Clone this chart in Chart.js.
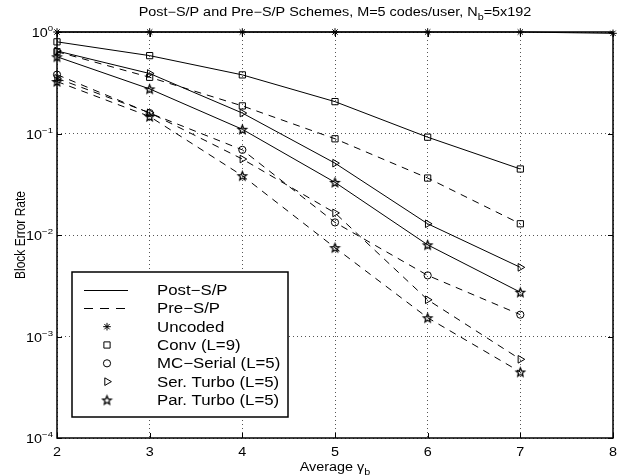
<!DOCTYPE html>
<html>
<head>
<meta charset="utf-8">
<script src="https://cdn.jsdelivr.net/npm/chart.js@4.4.0/dist/chart.umd.min.js"></script>
<style>
  html, body { margin: 0; padding: 0; background: #fff; }
  #bler-chart { display: block; }
</style>
</head>
<body>
<canvas id="bler-chart" width="623" height="476"></canvas>
<script>
// average gamma_b values where the coded schemes were simulated
const snrPoints = [2, 3, 4, 5, 6, 7];
const uncodedSnr = [2, 3, 4, 5, 6, 7, 8];

// block error rates
const uncoded = [1, 1, 1, 1, 1, 1, 0.97];
const postConv = [0.80, 0.585, 0.378, 0.206, 0.092, 0.0447];
const postSerTurbo = [0.65, 0.39, 0.159, 0.051, 0.0129, 0.0048];
const postParTurbo = [0.57, 0.275, 0.110, 0.033, 0.0080, 0.00273];
const preConv = [0.64, 0.358, 0.187, 0.0887, 0.0364, 0.0129];
const preMcSerial = [0.38, 0.159, 0.069, 0.0133, 0.0040, 0.00164];
const preSerTurbo = [0.35, 0.160, 0.056, 0.0165, 0.0023, 0.000596];
const preParTurbo = [0.325, 0.147, 0.0384, 0.0075, 0.00153, 0.000447];

// axis ticks
const xTicks = [2, 3, 4, 5, 6, 7, 8];
const yDecades = [1e-4, 1e-3, 1e-2, 1e-1, 1];
const yExponents = ['\u22124', '\u22123', '\u22122', '\u22121', '0'];

const legendLabels = ['Post\u2212S/P', 'Pre\u2212S/P', 'Uncoded', 'Conv (L=9)',
  'MC\u2212Serial (L=5)', 'Ser. Turbo (L=5)', 'Par. Turbo (L=5)'];

const FONT = '"Liberation Sans", Arial, sans-serif';
const textStretch = 1.2;
const dashPattern = [7, 6];

// five-pointed star marker used for the parallel turbo curves
function makePentagram(r) {
  const size = Math.ceil(r * 2 + 4);
  const c = document.createElement('canvas');
  c.width = size;
  c.height = size;
  const g = c.getContext('2d');
  g.translate(size / 2, size / 2 + 0.5);
  g.beginPath();
  for (let i = 0; i < 10; i++) {
    const rad = i % 2 ? r * 0.45 : r;
    const a = -Math.PI / 2 + i * Math.PI / 5;
    g.lineTo(rad * Math.cos(a), rad * Math.sin(a));
  }
  g.closePath();
  g.lineWidth = 1.3;
  g.strokeStyle = '#000';
  g.stroke();
  return c;
}
const pentagram = makePentagram(4.5);

const markers = {
  uncoded: {pointStyle: 'star', radius: 3.8, rotation: 0},
  conv: {pointStyle: 'rect', radius: 4.4, rotation: 0},
  mc: {pointStyle: 'circle', radius: 3.6, rotation: 0},
  ser: {pointStyle: 'triangle', radius: 4.4, rotation: 90},
  par: {pointStyle: pentagram, radius: 5, rotation: 0}
};

function series(label, xs, ys, marker, dashed) {
  return {
    label: label,
    data: xs.map((x, i) => ({x: x, y: ys[i]})),
    borderColor: '#000',
    borderWidth: 1,
    borderDash: dashed ? dashPattern : [],
    pointStyle: marker.pointStyle,
    pointRadius: marker.radius,
    pointRotation: marker.rotation,
    pointBorderColor: '#000',
    pointBackgroundColor: 'rgba(0,0,0,0)',
    pointBorderWidth: 1,
    tension: 0,
    clip: false
  };
}

// draws text pieces one after another (for sub/superscripts), stretched a bit wide
function drawRuns(ctx, runs, x, y, align, sx, sy) {
  sx = sx || textStretch;
  sy = sy || 1;
  let total = 0;
  runs.forEach(r => {
    ctx.font = r[1] + 'px ' + FONT;
    total += ctx.measureText(r[0]).width * sx;
  });
  let cx = x;
  if (align === 'center') cx = x - total / 2;
  if (align === 'right') cx = x - total;
  ctx.textAlign = 'left';
  ctx.textBaseline = 'alphabetic';
  runs.forEach(r => {
    ctx.font = r[1] + 'px ' + FONT;
    ctx.save();
    ctx.translate(cx, y + (r[2] || 0) * sy);
    ctx.scale(sx, sy);
    ctx.fillText(r[0], 0, 0);
    ctx.restore();
    cx += ctx.measureText(r[0]).width * sx;
  });
}

const frame = {
  id: 'frame',
  beforeDatasetsDraw(chart) {
    const {ctx, chartArea: a, scales} = chart;
    ctx.save();
    ctx.strokeStyle = '#000';
    ctx.lineWidth = 1.5;
    ctx.strokeRect(a.left, a.top, a.right - a.left, a.bottom - a.top);
    ctx.lineWidth = 1;
    ctx.beginPath();
    xTicks.forEach(v => {
      const px = Math.round(scales.x.getPixelForValue(v)) + 0.5;
      ctx.moveTo(px, a.bottom); ctx.lineTo(px, a.bottom - 5);
      ctx.moveTo(px, a.top); ctx.lineTo(px, a.top + 5);
    });
    yDecades.forEach(v => {
      const py = Math.round(scales.y.getPixelForValue(v)) + 0.5;
      ctx.moveTo(a.left, py); ctx.lineTo(a.left + 5, py);
      ctx.moveTo(a.right, py); ctx.lineTo(a.right - 5, py);
    });
    ctx.stroke();
    ctx.restore();
  },
  afterDraw(chart) {
    const {ctx, chartArea: a, scales} = chart;
    ctx.save();
    ctx.fillStyle = '#000';

    // tick labels
    xTicks.forEach(v => {
      drawRuns(ctx, [[String(v), 12]], scales.x.getPixelForValue(v), a.bottom + 18, 'center');
    });
    yDecades.forEach((v, i) => {
      const py = scales.y.getPixelForValue(v);
      drawRuns(ctx, [['10', 12], [yExponents[i], 8, -6]], a.left - 4, py + 5, 'right');
    });

    // title and axis labels
    const mid = (a.left + a.right) / 2;
    drawRuns(ctx, [['Post\u2212S/P and Pre\u2212S/P Schemes, M=5 codes/user, N', 12],
      ['b', 9, 4], ['=5x192', 12]], mid, 16, 'center');
    drawRuns(ctx, [['Average \u03b3', 12], ['b', 9, 4]], mid, 471, 'center');
    ctx.save();
    ctx.translate(25, (a.top + a.bottom) / 2);
    ctx.rotate(-Math.PI / 2);
    drawRuns(ctx, [['Block Error Rate', 12]], 0, 0, 'center', 1, textStretch);
    ctx.restore();

    // legend box
    const box = {left: 72, top: 272, right: 288, bottom: 417};
    ctx.fillStyle = '#fff';
    ctx.fillRect(box.left, box.top, box.right - box.left, box.bottom - box.top);
    ctx.strokeStyle = '#000';
    ctx.lineWidth = 1.5;
    ctx.strokeRect(box.left, box.top, box.right - box.left, box.bottom - box.top);

    const rowMarkers = [null, null, markers.uncoded, markers.conv, markers.mc, markers.ser, markers.par];
    legendLabels.forEach((label, i) => {
      const cy = 290 + i * 18.33;
      ctx.strokeStyle = '#000';
      ctx.lineWidth = 1;
      if (i < 2) {
        ctx.save();
        ctx.setLineDash(i === 1 ? [9, 7] : []);
        ctx.beginPath();
        ctx.moveTo(84, Math.round(cy) + 0.5);
        ctx.lineTo(128, Math.round(cy) + 0.5);
        ctx.stroke();
        ctx.restore();
      } else {
        const m = rowMarkers[i];
        ctx.fillStyle = 'rgba(0,0,0,0)';
        Chart.helpers.drawPoint(ctx, {pointStyle: m.pointStyle, rotation: m.rotation,
          radius: m.radius, borderWidth: 1}, 107, cy);
      }
      ctx.fillStyle = '#000';
      drawRuns(ctx, [[label, 14]], 157, cy + 5);
    });
    ctx.restore();
  }
};

const gridOpts = {color: '#555', lineWidth: 1, drawTicks: false};

new Chart(document.getElementById('bler-chart'), {
  type: 'line',
  data: {
    datasets: [
      series('Uncoded', uncodedSnr, uncoded, markers.uncoded, false),
      series('Post Conv', snrPoints, postConv, markers.conv, false),
      series('Post Ser. Turbo', snrPoints, postSerTurbo, markers.ser, false),
      series('Post Par. Turbo', snrPoints, postParTurbo, markers.par, false),
      series('Pre Conv', snrPoints, preConv, markers.conv, true),
      series('Pre MC-Serial', snrPoints, preMcSerial, markers.mc, true),
      series('Pre Ser. Turbo', snrPoints, preSerTurbo, markers.ser, true),
      series('Pre Par. Turbo', snrPoints, preParTurbo, markers.par, true)
    ]
  },
  options: {
    responsive: false,
    animation: false,
    layout: {padding: {left: 57, right: 10, top: 32, bottom: 38}},
    plugins: {
      legend: {display: false},
      tooltip: {enabled: false},
      title: {display: false}
    },
    scales: {
      x: {
        type: 'linear', min: 2, max: 8,
        afterBuildTicks: s => { s.ticks = xTicks.map(v => ({value: v})); },
        ticks: {display: false},
        grid: gridOpts,
        border: {display: false, dash: [1, 3]}
      },
      y: {
        type: 'logarithmic', min: 1e-4, max: 1,
        afterBuildTicks: s => { s.ticks = yDecades.map(v => ({value: v, major: true})); },
        ticks: {display: false},
        grid: gridOpts,
        border: {display: false, dash: [1, 3]}
      }
    }
  },
  plugins: [frame]
});
</script>
</body>
</html>
